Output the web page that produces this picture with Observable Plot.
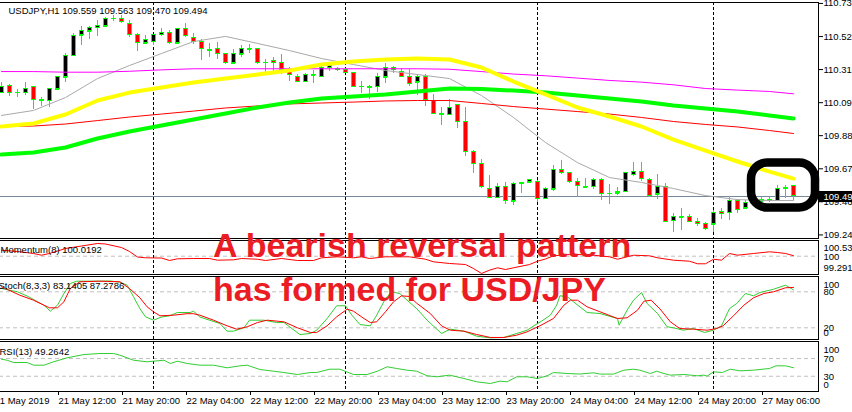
<!DOCTYPE html>
<html>
<head>
<meta charset="utf-8">
<script src="https://cdn.jsdelivr.net/npm/d3@7"></script>
<script src="https://cdn.jsdelivr.net/npm/@observablehq/plot@0.6"></script>
<style>
  html, body { margin: 0; padding: 0; background: #fff; }
  #chart { position: relative; width: 852px; height: 412px; overflow: hidden; background: #fff; }
  #chart svg { position: absolute; left: 0; }
  #note { position: absolute; left: 213px; top: 222.7px; z-index: 10; white-space: nowrap;
          font: bold 34px "Liberation Sans", Arial, sans-serif; line-height: 44px; color: #ec1c24; }
</style>
</head>
<body>
<div id="chart"></div>
<script>
// ---------------- data ----------------
const symbol = "USDJPY", timeframe = "H1";

const open = [110.162,110.207,110.162,110.162,110.195,110.111,110.111,110.182,110.259,110.400,
110.529,110.555,110.580,110.587,110.638,110.632,110.606,110.535,110.478,110.490,
110.535,110.548,110.478,110.568,110.516,110.490,110.435,110.439,110.407,110.349,
110.407,110.439,110.439,110.355,110.362,110.355,110.310,110.259,110.233,110.272,
110.265,110.323,110.310,110.310,110.291,110.201,110.195,110.201,110.259,110.317,
110.297,110.265,110.227,110.265,110.111,110.027,110.021,110.079,109.970,109.783,
109.706,109.545,109.487,109.552,109.462,109.577,109.584,109.584,109.481,109.539,
109.667,109.642,109.584,109.552,109.558,109.603,109.513,109.516,109.526,109.635,
109.654,109.603,109.507,109.558,109.339,109.359,109.359,109.333,109.314,109.314,
109.397,109.391,109.462,109.417,109.468,109.462,109.474,109.468,109.545,109.559];
const high = [110.227,110.214,110.182,110.227,110.201,110.130,110.188,110.265,110.413,110.542,
110.587,110.587,110.625,110.645,110.658,110.658,110.625,110.542,110.529,110.535,
110.574,110.561,110.570,110.606,110.542,110.503,110.478,110.484,110.413,110.439,
110.465,110.471,110.445,110.375,110.387,110.407,110.323,110.278,110.285,110.304,
110.336,110.349,110.323,110.317,110.293,110.233,110.207,110.285,110.349,110.330,
110.317,110.310,110.278,110.278,110.150,110.066,110.117,110.081,110.066,109.789,
109.732,109.629,109.577,109.584,109.584,109.584,109.603,109.597,109.552,109.693,
109.725,109.645,109.609,109.609,109.609,109.609,109.571,109.552,109.645,109.712,
109.712,109.609,109.635,109.577,109.384,109.417,109.378,109.352,109.327,109.404,
109.417,109.494,109.474,109.468,109.487,109.487,109.487,109.564,109.564,109.563];
const low = [110.156,110.137,110.130,110.143,110.053,110.072,110.066,110.175,110.227,110.394,
110.465,110.503,110.523,110.585,110.619,110.606,110.516,110.426,110.471,110.465,
110.523,110.471,110.475,110.516,110.471,110.368,110.387,110.375,110.345,110.345,
110.387,110.413,110.345,110.272,110.291,110.278,110.233,110.227,110.227,110.220,
110.259,110.297,110.297,110.285,110.195,110.156,110.117,110.162,110.220,110.285,
110.259,110.201,110.143,110.072,110.025,109.950,110.012,109.931,109.751,109.642,
109.545,109.485,109.481,109.442,109.436,109.513,109.577,109.455,109.474,109.526,
109.635,109.577,109.487,109.550,109.539,109.468,109.442,109.500,109.519,109.622,
109.590,109.487,109.474,109.327,109.262,109.275,109.327,109.301,109.275,109.262,
109.346,109.339,109.384,109.410,109.449,109.455,109.455,109.462,109.481,109.470];
const close = [110.201,110.162,110.160,110.188,110.117,110.113,110.182,110.259,110.400,110.523,
110.561,110.574,110.593,110.638,110.637,110.613,110.529,110.478,110.503,110.529,
110.548,110.478,110.568,110.523,110.490,110.439,110.432,110.407,110.349,110.407,
110.439,110.441,110.349,110.353,110.349,110.310,110.272,110.233,110.272,110.274,
110.317,110.336,110.311,110.291,110.201,110.199,110.193,110.259,110.317,110.304,
110.265,110.220,110.265,110.117,110.027,110.015,110.066,109.970,109.783,109.706,
109.558,109.487,109.552,109.462,109.577,109.579,109.597,109.481,109.539,109.667,
109.642,109.590,109.564,109.553,109.597,109.513,109.511,109.521,109.642,109.654,
109.609,109.500,109.552,109.333,109.359,109.361,109.333,109.320,109.282,109.391,
109.384,109.468,109.410,109.449,109.470,109.474,109.462,109.545,109.547,109.494];

// moving averages, read at these bars
const maBars    = [0,4,8,12,16,20,24,28,32,36,40,44,48,52,56,60,64,68,72,76,80,84,88,92,96,99];
const maGrey    = [110.015,110.047,110.130,110.252,110.336,110.413,110.490,110.523,110.478,110.432,110.381,110.342,110.304,110.278,110.252,110.143,110.002,109.841,109.712,109.616,109.584,109.545,109.500,109.474,109.468,109.468];
const maMagenta = [110.297,110.297,110.293,110.293,110.299,110.308,110.315,110.315,110.315,110.315,110.315,110.315,110.315,110.315,110.312,110.297,110.281,110.270,110.255,110.240,110.229,110.212,110.188,110.178,110.169,110.154];
const maRed     = [109.944,109.947,109.960,109.982,110.005,110.024,110.043,110.063,110.076,110.089,110.095,110.101,110.108,110.111,110.111,110.092,110.072,110.056,110.040,110.024,110.002,109.976,109.957,109.941,109.918,109.899];
const maGreen   = [109.764,109.777,109.809,109.867,109.912,109.950,109.989,110.027,110.066,110.098,110.124,110.137,110.150,110.169,110.188,110.185,110.175,110.162,110.143,110.124,110.105,110.079,110.060,110.040,110.015,109.995];
const maYellow  = [109.944,109.963,110.021,110.111,110.162,110.195,110.227,110.252,110.278,110.304,110.342,110.362,110.375,110.381,110.375,110.323,110.233,110.150,110.066,110.008,109.944,109.860,109.789,109.719,109.654,109.609];

// Momentum(8)
const momPeriod = 8;
const momBars = [0,2,4,5,6,8,10,12,13,15,16,17,18,20,21,22,24,26,27,29,30,32,33,35,37,39,40,42,44,45,46,48,51,53,54,56,58,59,60,61,62,63,64,66,67,68,69,71,72,74,76,77,79,81,82,84,86,87,88,89,90,91,92,94,96,97,98,99];
const momValues = [100.220,100.172,100.099,100.036,100.099,100.282,100.374,100.466,100.447,100.319,100.172,99.970,99.941,99.933,99.842,99.904,99.915,99.915,99.853,99.867,99.915,99.889,99.842,99.915,99.842,99.842,99.941,99.977,99.941,99.977,99.915,99.977,99.977,99.889,99.794,99.732,99.695,99.548,99.365,99.486,99.574,99.511,99.574,99.695,99.816,99.897,100.014,100.062,100.062,100.036,99.977,99.889,100.036,100.014,99.941,99.853,99.816,99.721,99.721,99.889,99.853,100.099,100.036,100.099,100.161,100.135,100.099,100.0192];
const momLevel = 100;
const momScaleLabels = [100.539, 100, 99.2913];

// Stochastic(8,3,3)
const stochParams = "8,3,3";
const kBars = [0,2,3.2,5.3,6.1,7,7.8,8.6,9.4,12.3,13.6,14.8,15.7,16.5,17.3,18,19,20,21,22,23.6,24,24.8,26,27.3,28.2,29,30.3,31,32.8,34.4,35.3,37.3,38.6,39.4,40.7,41.9,43,43.8,44.8,46.1,46.9,48,48.8,49.8,50.7,51.9,53.2,55,56.1,57.8,59.4,61.1,62.8,64.4,65.7,67,67.5,68.6,69.4,69.8,70.7,71.5,73.2,74.8,77,77.2,78.2,79,80,80.7,82,83.2,84,85.2,86.5,87.9,89,90,91,91.9,93,94,94.8,96.5,98,99];
const kValues = [85.5,80,73,57.7,47.7,57.7,77,93.8,97.7,97.7,98,96,91,71.7,52,38.3,32.7,38,40,45.5,45.5,47.7,38,32.7,27.2,14.4,14.4,20,32.7,32.7,28.8,28.8,8.8,10.5,16,35.5,56.7,56.7,41,25.5,23.3,41,68.8,80,77,66,52,32.7,10.5,17.7,14.4,6,3.3,3.9,10.5,16,27.2,31,41,57.7,73.3,72,63.3,45.5,43.8,35.5,24.4,49.3,66,78.8,60.5,43.8,21.7,20,16,18.8,12.2,16,23.3,52,60.5,77.2,73.3,78.8,84.3,91,83.1405];
const dBars = [0,2.3,4,6,7,7.8,8.6,9.8,12.3,14.8,16,17.3,18.2,19,19.8,21.5,23.2,24,24.8,26.5,28.2,29.4,30.7,32,33.2,35.3,37,38.6,39.4,40.7,41.9,43.2,44,45.3,46.1,46.9,48,49,50,51,51.9,53.6,55,56.1,57.8,59.4,61.1,62.8,64.4,65.7,67.3,69,70.3,71.1,72,73.2,74.8,77,78.2,79.5,80.3,81.2,82.3,83.6,84.8,86.5,88.2,89.4,90.2,91.5,92.8,94,95.3,96.5,98,99];
const dValues = [88.3,74.3,66,53.3,53.3,63.3,85.5,96.7,97.7,96.7,85.5,70,55,46.7,40,41,43.5,43.5,41,32.7,23.3,17.7,21.6,28.8,32.7,30,20,12.2,12.2,23.3,38.3,51,47.7,35.5,28.8,30,46.7,63.3,73.3,72.2,61,43.8,23.3,16,14.4,8.8,3.9,3.9,7.7,13.3,23.3,35.5,57.7,66,66,55,46.7,35.5,36.7,49.3,64.3,66,51.6,30,18.8,17.7,16,18.8,23.3,40,57.7,70,77.2,80,86.7,87.2786];
const stochLevels = [80, 20];
const stochScaleLabels = [100, 80, 20, 0];

// RSI(13)
const rsiPeriod = 13;
const rsiBars = [0,0.7,1.5,3.2,4,5.3,6.5,8.2,10.3,12.3,14,14.8,15.7,16.5,18.2,19,20.3,21.1,22,23.2,24.8,26.5,28.2,29.8,30.7,32.3,34,35.3,37,38.6,39.4,41,42.3,44,45.7,47,48.2,49.4,50.7,51.9,53.2,54.4,56,57.8,59.4,61.1,62.3,63.2,64.4,65.7,67,68.2,69,70.7,72.3,74,74.8,76.5,77.8,79,79.8,81.1,81.9,82.8,83.6,85.3,87,87.8,88.2,89,90.1,91.1,92.3,94,96,96.8,98,99];
const rsiValues = [68.5,66.2,61,61,55,55,62.6,71.6,79,81.4,81.4,77.6,71.6,66.2,62.6,64,66.2,58.8,64,58.8,55,55,49,53.5,55,45.2,41.4,38.4,33.9,38.4,38.4,45.9,45.9,33.9,33.9,41.4,51.3,47.5,43.7,41.4,31,28.7,32.5,24.9,17.4,13.6,18.9,17.4,28.7,28.7,24.9,31,38.4,36.2,35,37.7,34.9,34.9,43.7,45.9,43.7,36.2,41.4,36.2,32.5,33.9,31,32.5,30.2,40,38.4,45.9,42.2,43.7,47.5,53.5,53.5,49.2642];
const rsiLevels = [70, 30];
const rsiScaleLabels = [100, 70, 30, 0];

// axes
const priceTicks = [110.735,110.522,110.310,110.097,109.885,109.672,109.460,109.247];
const timeLabelBars = [-1,7,15,23,31,39,47,55,63,71,79,87,95];
const timeLabels = ["21 May 2019","21 May 12:00","21 May 20:00","22 May 04:00","22 May 12:00","22 May 20:00","23 May 04:00","23 May 12:00","23 May 20:00","24 May 04:00","24 May 12:00","24 May 20:00","27 May 06:00"];
const daySeparators = [19, 43, 67, 89];

// annotation
const highlight = {barStart: 93.75, barEnd: 101.75, priceLow: 109.420, priceHigh: 109.709};
const noteLines = ["A bearish reversal pattern", "has formed for USD/JPY"];

// ---------------- drawing ----------------
const root = document.getElementById("chart");
const xDomain = [-0.25, 102.125];
const W = 852, ML = -1, MR = 34;
const baseStyle = {fontFamily: '"Liberation Sans", Arial, sans-serif', fontSize: "9.5px",
                   background: "transparent", overflow: "visible", color: "black"};
const sepMark = () => Plot.ruleX(daySeparators, {stroke: "black", strokeDasharray: "3,2"});
const crisp = "crispEdges";
const last = close.length - 1;
const lastClose = close[last];

function place(svg, top) {
  svg.style.position = "absolute";
  svg.style.left = "0px";
  svg.style.top = top + "px";
  root.appendChild(svg);
}

// right-side labels of the indicator windows; the extreme labels sit just inside the window
function scaleLabels(values, texts, nudge) {
  const mx = d3.max(values), mn = d3.min(values);
  return values.map((v, i) => Plot.text([v], {
    y: d => d, text: () => texts[i], frameAnchor: "right", textAnchor: "start", dx: 5,
    dy: v === mx ? nudge[0] : v === mn ? -nudge[1] : 0.5
  }));
}

const candles = close.map((c, i) => ({i, open: open[i], high: high[i], low: low[i], close: c}));
const half = 0.25;
const title = `${symbol},${timeframe} ${open[last].toFixed(3)} ${high[last].toFixed(3)} ${low[last].toFixed(3)} ${close[last].toFixed(3)}`;
const line = (xs, ys, stroke, width) => Plot.line(ys, {x: (d, i) => xs[i], y: d => d, stroke, strokeWidth: width});

const main = Plot.plot({
  width: W, height: 240, marginLeft: ML, marginRight: MR, marginTop: 2, marginBottom: 2,
  x: {domain: xDomain, axis: null},
  y: {domain: [109.224, 110.741]},
  color: {type: "identity"},
  style: baseStyle,
  marks: [
    sepMark(),
    Plot.ruleY([lastClose], {stroke: "#778899"}),
    Plot.ruleX(candles, {x: "i", y1: "low", y2: "high", stroke: "#00ff00", shapeRendering: crisp}),
    Plot.ruleY(candles, {y: "open", x1: d => d.i - half, x2: d => d.i + half, stroke: "#00ff00", shapeRendering: crisp}),
    Plot.rect(candles, {x1: d => d.i - half, x2: d => d.i + half, y1: "open", y2: "close",
      fill: d => d.close > d.open ? "black" : "#ff0000", stroke: "#00ff00", shapeRendering: crisp}),
    line(maBars, maGrey, "#a9a9a9", 1),
    line(maBars, maMagenta, "#ff00ff", 1),
    line(maBars, maRed, "#ff0000", 1),
    line(maBars, maGreen, "#00ff00", 4),
    line(maBars, maYellow, "#ffff00", 4),
    Plot.rect([highlight], {x1: "barStart", x2: "barEnd", y1: "priceLow", y2: "priceHigh",
      rx: 16, ry: 16, fill: "none", stroke: "black", strokeWidth: 8.5}),
    Plot.frame({stroke: "black"}),
    Plot.axisY({anchor: "right", ticks: priceTicks, tickSize: 4, tickPadding: 1, tickFormat: d => d.toFixed(3)}),
    Plot.ruleY([lastClose], {x1: xDomain[1], x2: xDomain[1] + 5, stroke: "black", strokeWidth: 11}),
    Plot.text([lastClose], {y: d => d, text: d => d.toFixed(3), frameAnchor: "right", textAnchor: "start", dx: 5, fill: "white"}),
    Plot.text([title], {text: d => d, frameAnchor: "top-left", textAnchor: "start", lineAnchor: "bottom", dx: 9, dy: 11.3})
  ]
});
place(main, 0);

const mom = Plot.plot({
  width: W, height: 36, marginLeft: ML, marginRight: MR, marginTop: 0, marginBottom: 2,
  x: {domain: xDomain, axis: null},
  y: {domain: [99.328, 100.576], axis: null},
  style: baseStyle,
  marks: [
    Plot.ruleY([momLevel], {stroke: "#c0c0c0", strokeDasharray: "4,3"}),
    sepMark(),
    line(momBars, momValues, "#ff0000", 1),
    Plot.frame({stroke: "black"}),
    ...scaleLabels(momScaleLabels, momScaleLabels.map(String), [6.3, 7.7]),
    Plot.text([`Momentum(${momPeriod}) ${momValues[momValues.length - 1].toFixed(4)}`],
      {text: d => d, frameAnchor: "top-left", textAnchor: "start", lineAnchor: "bottom", dx: 1, dy: 12})
  ]
});
place(mom, 240);

const stoch = Plot.plot({
  width: W, height: 64, marginLeft: ML, marginRight: MR, marginTop: 0, marginBottom: 1,
  x: {domain: xDomain, axis: null},
  y: {domain: [0.5, 105.5], axis: null},
  style: baseStyle,
  marks: [
    Plot.ruleY(stochLevels, {stroke: "#c0c0c0", strokeDasharray: "4,3"}),
    sepMark(),
    line(kBars, kValues, "#32cd32", 1),
    line(dBars, dValues, "#ff0000", 1),
    Plot.frame({stroke: "black"}),
    ...scaleLabels(stochScaleLabels, stochScaleLabels.map(String), [4.7, 6.6]),
    Plot.text([`Stoch(${stochParams}) ${kValues[kValues.length - 1].toFixed(4)} ${dValues[dValues.length - 1].toFixed(4)}`],
      {text: d => d, frameAnchor: "top-left", textAnchor: "start", lineAnchor: "bottom", dx: -1, dy: 12.5})
  ]
});
place(stoch, 276);

const rsi = Plot.plot({
  width: W, height: 71, marginLeft: ML, marginRight: MR, marginTop: 0, marginBottom: 21,
  x: {domain: xDomain},
  y: {domain: [-4.5, 108.5], axis: null},
  style: baseStyle,
  marks: [
    Plot.ruleY(rsiLevels, {stroke: "#c0c0c0", strokeDasharray: "4,3"}),
    sepMark(),
    line(rsiBars, rsiValues, "#32cd32", 1),
    Plot.frame({stroke: "black"}),
    ...scaleLabels(rsiScaleLabels, rsiScaleLabels.map(String), [4.6, 4.7]),
    Plot.text([`RSI(${rsiPeriod}) ${rsiValues[rsiValues.length - 1].toFixed(4)}`],
      {text: d => d, frameAnchor: "top-left", textAnchor: "start", lineAnchor: "bottom", dx: 0, dy: 13}),
    Plot.axisX({ticks: timeLabelBars, tickFormat: d => timeLabels[timeLabelBars.indexOf(d)],
      tickSize: 4, tickPadding: 2, textAnchor: "start", dx: 1})
  ]
});
place(rsi, 341);

const note = document.createElement("div");
note.id = "note";
note.innerHTML = noteLines.join("<br>");
root.appendChild(note);
</script>
</body>
</html>
